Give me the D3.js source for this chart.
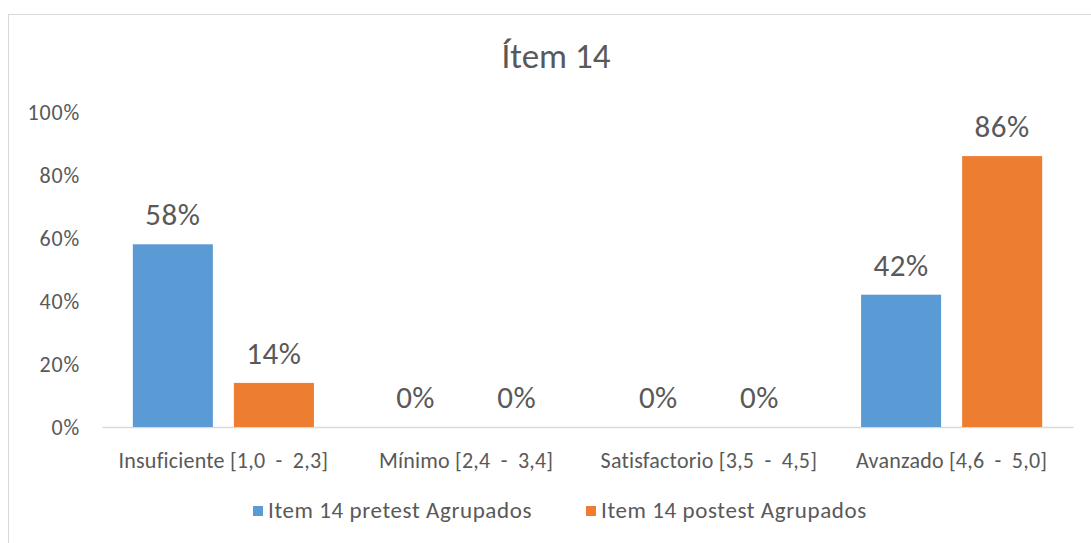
<!DOCTYPE html>
<html>
<head>
<meta charset="utf-8">
<script src="https://cdn.jsdelivr.net/npm/d3@7"></script>
<style>
  html, body { margin: 0; padding: 0; background: #fff; }
  svg { display: block; }
  text { font-family: Calibri, Carlito, Lato, "Open Sans", sans-serif; fill: #595959; white-space: pre; }
</style>
</head>
<body>
<svg id="chart" width="1091" height="543"></svg>
<script>
// Grouped bar chart: pretest vs postest share per performance level
const categories = ["Insuficiente [1,0  -  2,3]", "Mínimo [2,4  -  3,4]", "Satisfactorio [3,5  -  4,5]", "Avanzado [4,6  -  5,0]"];
const seriesNames = ["Item 14 pretest Agrupados", "Item 14 postest Agrupados"];
const pretest = [58, 0, 0, 42];
const postest = [14, 0, 0, 86];
const yTicks = [0, 20, 40, 60, 80, 100];
const colors = ["#5b9bd5", "#ed7d31"];
const titleText = "Ítem 14";

const FONT = "Calibri, Carlito, Lato, sans-serif";
const svg = d3.select("#chart");
const W = 1091, H = 543;

// outer chart frame
svg.append("rect")
  .attr("x", 8.5).attr("y", 14.5)
  .attr("width", W + 10).attr("height", H + 10)
  .attr("fill", "#fff").attr("stroke", "#d9d9d9").attr("stroke-width", 1);

const plot = { left: 102, right: 1073, top: 112, bottom: 427 };

const x0 = d3.scaleBand().domain(categories)
  .range([plot.left, plot.right]).paddingInner(0.254).paddingOuter(0.127);
const x1 = d3.scaleBand().domain(seriesNames)
  .range([0, x0.bandwidth()]).paddingInner(0.208);
const y = d3.scaleLinear().domain([0, 100]).range([plot.bottom, plot.top]);

// y axis labels (no axis line)
const yAxis = d3.axisLeft(y).tickValues(yTicks).tickFormat(d => d + "%").tickSize(0).tickPadding(0);
const yg = svg.append("g").attr("transform", `translate(${80},0)`).call(yAxis);
yg.select(".domain").remove();
yg.selectAll("text").style("font-size", "22px").style("font-family", FONT)
  .style("letter-spacing", "0.8px").attr("fill", "#595959");

// category axis
const xAxis = d3.axisBottom(x0).tickSize(0).tickPadding(0);
const xg = svg.append("g").attr("transform", `translate(0,${plot.bottom})`).call(xAxis);
xg.select(".domain").attr("stroke", "#d9d9d9").attr("stroke-width", 1.5);
xg.selectAll("text").attr("dy", "0").attr("y", 41)
  .style("font-size", "22px").style("font-family", FONT).style("letter-spacing", "0.2px")
  .style("white-space", "pre").attr("fill", "#595959");

const rows = categories.map((c, i) => ({ cat: c, vals: [pretest[i], postest[i]] }));

const groups = svg.append("g").selectAll("g").data(rows).join("g")
  .attr("transform", d => `translate(${x0(d.cat)},0)`);

groups.selectAll("rect").data(d => d.vals.map((v, j) => ({ v, s: seriesNames[j], j })))
  .join("rect")
  .attr("x", d => x1(d.s))
  .attr("y", d => y(d.v))
  .attr("width", x1.bandwidth())
  .attr("height", d => plot.bottom - y(d.v))
  .attr("fill", d => colors[d.j]);

groups.selectAll("text.lbl").data(d => d.vals.map((v, j) => ({ v, s: seriesNames[j], j })))
  .join("text").attr("class", "lbl")
  .attr("x", d => x1(d.s) + x1.bandwidth() / 2)
  .attr("y", d => y(d.v) - 19)
  .attr("text-anchor", "middle")
  .style("font-size", "31px")
  .style("letter-spacing", "0.5px")
  .attr("fill", "#404040")
  .text(d => d.v + "%");

// title
svg.append("text").attr("x", 556).attr("y", 68).attr("text-anchor", "middle")
  .style("font-size", "35px").attr("fill", "#595959").text(titleText);

// legend
const legendX = [253, 586];
const leg = svg.append("g").selectAll("g").data(seriesNames).join("g")
  .attr("transform", (d, i) => `translate(${legendX[i]},${506})`);
leg.append("rect").attr("width", 10).attr("height", 10).attr("fill", (d, i) => colors[i]);
leg.append("text").attr("x", 15).attr("y", 12).style("font-size", "23px")
  .style("letter-spacing", "0.6px").attr("fill", "#595959").text(d => d);
</script>
</body>
</html>
